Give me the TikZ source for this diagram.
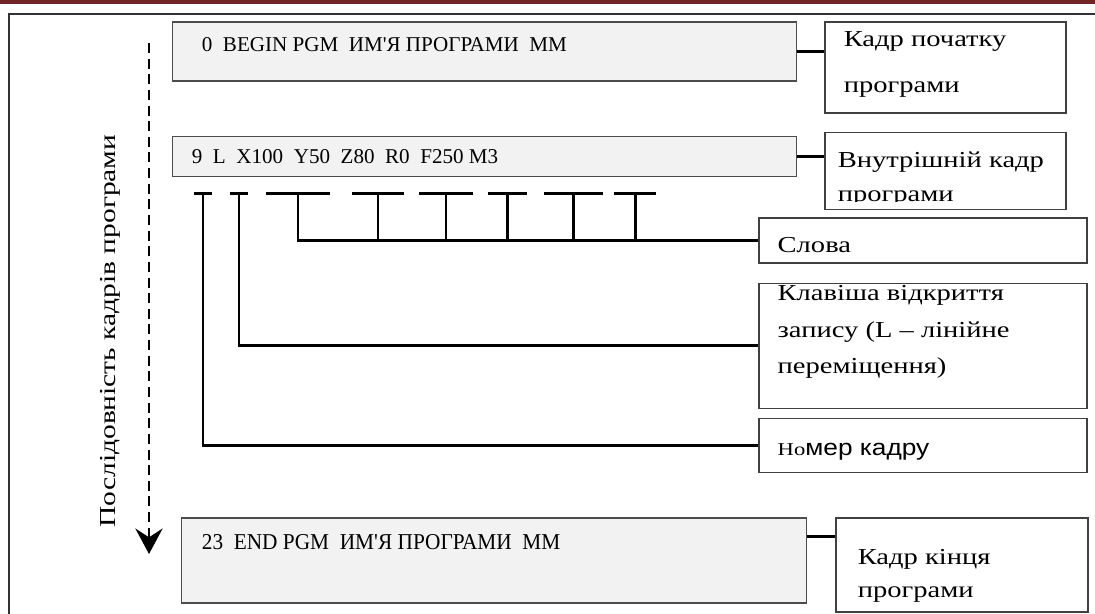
\documentclass[tikz,border=0pt]{standalone}
\usepackage{fontspec}
\setmainfont{Liberation Serif}
\newfontfamily\lblfont[FakeStretch=1.25]{Liberation Serif}
\newfontfamily\lblsans[FakeStretch=1.15]{Liberation Sans}
\newfontfamily\narrowfont[FakeStretch=0.94]{Liberation Serif}
\newfontfamily\seqfont[FakeStretch=1.29]{Liberation Serif}
\usetikzlibrary{arrows.meta,positioning,calc}
\definecolor{bandred}{RGB}{112,36,36}
\definecolor{boxgray}{RGB}{242,242,242}

\begin{document}
\begin{tikzpicture}[
    x=0.02cm, y=-0.02cm,
    frame/.style={draw=black!80, line width=1.4pt},
    gbox/.style={draw=black!70, fill=boxgray, line width=0.6pt, inner sep=0pt},
    lbox/.style={draw=black!75, fill=white, line width=0.8pt, inner sep=0pt},
    gtxt/.style={inner sep=0pt, anchor=base west, text=black, font=\fontsize{12}{14}\selectfont},
    ltxt/.style={inner sep=0pt, anchor=base west, align=left, text=black, font=\lblfont\fontsize{13}{#1}\selectfont},
    link/.style={line width=1.7pt},
    seq/.style={line width=1.5pt, dash pattern=on 5.7pt off 3.2pt}
  ]
  \useasboundingbox (0,0) rectangle (1095,613);
  \clip (0,0) rectangle (1095,613);
  \fill[bandred] (0,0) rectangle (1095,3.5);
  \draw[frame] (9,14) rectangle (1120,640);

  % program blocks
  \node[gbox, minimum width=12.5cm, minimum height=1.18cm] (box1) at (484.5,51.5) {};
  \node[gbox, minimum width=12.5cm, minimum height=0.8cm, below=1.08cm of box1] (box2) {};
  \node[gbox, minimum width=12.52cm, minimum height=1.7cm] (boxend) at (494,560.5) {};
  \node[gtxt] (box1t) at ([shift={(30,30)}]box1.north west)
    {0\ \ BEGIN PGM\ \ ИМ\textquotesingle Я ПРОГРАМИ\ \ MM};
  \node[gtxt] (box2t) at ([shift={(20,28)}]box2.north west)
    {9\ \ L\ \ X100\ \ Y50\ \ Z80\ \ R0\ \ F250 M3};
  \node[gtxt, font=\narrowfont\fontsize{12.9}{15}\selectfont] (boxendt) at ([shift={(21,32)}]boxend.north west)
    {23\ \ END PGM\ \ ИМ\textquotesingle Я ПРОГРАМИ\ \ MM};

  % labels
  \node[lbox, minimum width=4.82cm, minimum height=1.82cm, right=0.54cm of box1.north east, anchor=north west] (lab1) {};
  \node[lbox, minimum width=4.82cm, minimum height=1.54cm, right=0.54cm of box2.north east, anchor=north west, yshift=0.08cm] (lab2) {};
  \node[lbox, minimum width=5.04cm, minimum height=1.88cm, right=0.56cm of boxend.north east, anchor=north west] (labend) {};
  \node[lbox, minimum width=6.56cm, minimum height=0.9cm] (slova) at (923,240.5) {};
  \node[lbox, minimum width=6.56cm, minimum height=2.5cm, below=0.38cm of slova] (klav) {};
  \node[lbox, minimum width=6.56cm, minimum height=1.08cm, below=0.18cm of klav] (nomer) {};

  \node[ltxt=26.2] (lab1t) at ([shift={(19,71)}]lab1.north west) {Кадр початку\\програми};
  \begin{scope}
    \clip (lab2.north west) rectangle ([yshift=0.16cm]lab2.south east);
    \node[ltxt=19.5] (lab2t) at ([shift={(13,70)}]lab2.north west) {Внутрішній кадр\\програми};
  \end{scope}
  \node[ltxt=18.8] (labendt) at ([shift={(22,80)}]labend.north west) {Кадр кінця\\програми};
  \node[ltxt=15] (slovat) at ([shift={(19,35)}]slova.north west) {Слова};
  \node[ltxt=20.8] (klavt) at ([shift={(19,91)}]klav.north west)
    {Клавіша відкриття\\запису (L – лінійне\\переміщення)};
  \node[ltxt=15] (nomert) at ([shift={(19,37)}]nomer.north west)
    {{\fontsize{10.3}{12}\selectfont Но}{\lblsans мер кадру}};

  \draw[link] (box1.east) -- (box1.east -| lab1.west);
  \draw[link] (box2.east) -- (box2.east -| lab2.west);
  \coordinate (endlink) at ($(boxend.north east)!0.22!(boxend.south east)$);
  \draw[link] (endlink) -- (endlink -| labend.west);

  % word brackets
  \foreach \a/\b [count=\i] in {194/212,230/248,266/330,352/404,419/473,488/527,544/603,614/656} {
    \draw[link] (\a,193) -- (\b,193);
    \coordinate (w\i) at ({(\a+\b)/2},193);
  }
  \draw[link] (w1) |- (nomer.west);
  \draw[link] (w2) |- (klav.west);
  \draw[link] (w3) |- (slova.west);
  \foreach \i in {4,...,8}
    \draw[link] (w\i) -- (w\i |- slova.west);

  % sequence of blocks
  \coordinate (seqtop) at (149,43);
  \coordinate (seqend) at (149,554);
  \draw[seq, -{Stealth[length=14.5pt, width=15.5pt, inset=5pt]}] (seqtop) -- (seqend);
  \node[inner sep=0pt, anchor=base, rotate=90, text=black, font=\seqfont\fontsize{13}{15}\selectfont] (seqlbl) at (115,331)
    {Послідовність кадрів програми};
\end{tikzpicture}
\end{document}
